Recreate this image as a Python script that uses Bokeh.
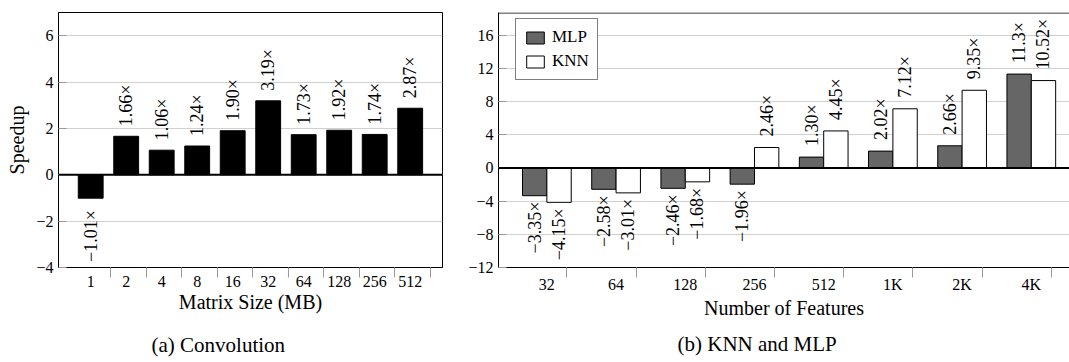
import numpy as np
from bokeh.plotting import figure
from bokeh.layouts import row
from bokeh.models import Range1d, FixedTicker, Span, Title
from bokeh.core.properties import value
from bokeh.embed import file_html
from bokeh.resources import INLINE

# ---------------- data ----------------
conv_sizes = ["1", "2", "4", "8", "16", "32", "64", "128", "256", "512"]
conv_speedup = [-1.01, 1.66, 1.06, 1.24, 1.90, 3.19, 1.73, 1.92, 1.74, 2.87]
conv_labels = ["\u22121.01\u00d7", "1.66\u00d7", "1.06\u00d7", "1.24\u00d7", "1.90\u00d7",
               "3.19\u00d7", "1.73\u00d7", "1.92\u00d7", "1.74\u00d7", "2.87\u00d7"]
conv_yticks = [-4, -2, 0, 2, 4, 6]
conv_ytick_labels = ["\u22124", "\u22122", "0", "2", "4", "6"]

features = ["32", "64", "128", "256", "512", "1K", "2K", "4K"]
mlp_speedup = [-3.35, -2.58, -2.46, -1.96, 1.30, 2.02, 2.66, 11.3]
knn_speedup = [-4.15, -3.01, -1.68, 2.46, 4.45, 7.12, 9.35, 10.52]
mlp_labels = ["\u22123.35\u00d7", "\u22122.58\u00d7", "\u22122.46\u00d7", "\u22121.96\u00d7",
              "1.30\u00d7", "2.02\u00d7", "2.66\u00d7", "11.3\u00d7"]
knn_labels = ["\u22124.15\u00d7", "\u22123.01\u00d7", "\u22121.68\u00d7", "2.46\u00d7",
              "4.45\u00d7", "7.12\u00d7", "9.35\u00d7", "10.52\u00d7"]
feat_yticks = [-12, -8, -4, 0, 4, 8, 12, 16]
feat_ytick_labels = ["\u221212", "\u22128", "\u22124", "0", "4", "8", "12", "16"]

SERIF = "'Liberation Serif', serif"
GRID = "#d0d0d0"
TICK = "#9a9a9a"
FIG_H = 362


def style_axes(p, n, tick_shift, xlabels, yticks, ylabels, xlabel):
    idx = list(range(n))
    p.xgrid.visible = False
    p.ygrid.grid_line_color = GRID
    p.ygrid.ticker = FixedTicker(ticks=yticks)

    xa = p.xaxis[0]
    xa.ticker = FixedTicker(ticks=idx, minor_ticks=[i + tick_shift for i in idx])
    xa.major_label_overrides = {i: l for i, l in zip(idx, xlabels)}
    xa.major_tick_out = 0
    xa.major_tick_in = 0
    xa.minor_tick_out = 10
    xa.minor_tick_in = 0
    xa.minor_tick_line_color = TICK
    xa.axis_line_color = "black"
    xa.major_label_standoff = -2
    xa.major_label_text_font = SERIF
    xa.major_label_text_font_size = "16px"
    xa.major_label_text_color = "black"
    xa.axis_label = xlabel
    xa.axis_label_text_font = SERIF
    xa.axis_label_text_font_size = "20px"
    xa.axis_label_text_font_style = "normal"
    xa.axis_label_text_color = "black"
    xa.axis_label_standoff = 1

    ya = p.yaxis[0]
    ya.ticker = FixedTicker(ticks=yticks)
    ya.major_label_overrides = {t: l for t, l in zip(yticks, ylabels)}
    ya.major_tick_out = 0
    ya.major_tick_in = 8
    ya.major_tick_line_color = TICK
    ya.minor_tick_line_color = None
    ya.axis_line_color = "black"
    ya.major_label_standoff = 5
    ya.major_label_text_font = SERIF
    ya.major_label_text_font_size = "16px"
    ya.major_label_text_color = "black"


def add_value_labels(p, xs, vals, labels, pos_off, neg_off):
    pos = [i for i, v in enumerate(vals) if v >= 0]
    neg = [i for i, v in enumerate(vals) if v < 0]
    common = dict(angle=np.pi / 2, text_baseline="middle", text_font=value(SERIF),
                  text_font_size="18px", text_color="black")
    if pos:
        p.text(x=[xs[i] for i in pos], y=[vals[i] for i in pos],
               text=[labels[i] for i in pos], text_align="left",
               y_offset=-pos_off, **common)
    if neg:
        p.text(x=[xs[i] for i in neg], y=[vals[i] for i in neg],
               text=[labels[i] for i in neg], text_align="right",
               y_offset=neg_off, **common)


def add_caption(p, text, dx, spacer_px):
    # blank spacer panel between the axis and the caption
    p.add_layout(Title(text=" ", standoff=0, text_font=SERIF,
                       text_font_size=f"{spacer_px}px"), "below")
    p.add_layout(Title(text=text, align="left", offset=dx, vertical_align="top",
                       standoff=0, text_font=SERIF, text_font_size="21px",
                       text_font_style="normal", text_color="black"), "below")


# ---------------- (a) Convolution ----------------
n1 = len(conv_sizes)
x1 = list(range(n1))
p1 = figure(width=448, height=FIG_H, output_backend="svg", toolbar_location=None,
            x_range=Range1d(-0.907, 9.91), y_range=Range1d(-4, 7.0),
            min_border_left=58, min_border_right=6, min_border_top=6,
            min_border_bottom=FIG_H - 267)
p1.outline_line_color = "black"
p1.outline_line_width = 1
p1.background_fill_color = "white"
p1.border_fill_color = "white"
style_axes(p1, n1, 0.565, conv_sizes, conv_yticks, conv_ytick_labels, "Matrix Size (MB)")
ya1 = p1.yaxis[0]
ya1.axis_label = "Speedup"
ya1.axis_label_text_font = SERIF
ya1.axis_label_text_font_size = "20px"
ya1.axis_label_text_font_style = "normal"
ya1.axis_label_text_color = "black"
ya1.axis_label_standoff = 5

p1.vbar(x=x1, top=conv_speedup, bottom=0, width=0.70,
        fill_color="black", line_color="black", line_width=1)
p1.add_layout(Span(location=0, dimension="width", line_color="black", line_width=2))
add_value_labels(p1, x1, conv_speedup, conv_labels, 10, 12)
add_caption(p1, "(a) Convolution", 93, 14)

# ---------------- (b) KNN and MLP ----------------
n2 = len(features)
x2 = np.arange(n2)
bw = 0.352
p2 = figure(width=621, height=FIG_H, output_backend="svg", toolbar_location=None,
            x_range=Range1d(-0.699, 7.552), y_range=Range1d(-12, 18.72),
            min_border_left=50, min_border_right=0, min_border_top=12,
            min_border_bottom=FIG_H - 271)
p2.outline_line_color = None
p2.background_fill_color = "white"
p2.border_fill_color = "white"
style_axes(p2, n2, 0.29, features, feat_yticks, feat_ytick_labels, "Number of Features")

x_mlp = list(x2 - bw / 2)
x_knn = list(x2 + bw / 2)
p2.vbar(x=x_mlp, top=mlp_speedup, bottom=0, width=bw, fill_color="#666666",
        line_color="black", line_width=1, legend_label="MLP")
p2.vbar(x=x_knn, top=knn_speedup, bottom=0, width=bw, fill_color="white",
        line_color="black", line_width=1, legend_label="KNN")
p2.add_layout(Span(location=0, dimension="width", line_color="black", line_width=2))
p2.add_layout(Span(location=18.66, dimension="width", line_color="black", line_width=1))
add_value_labels(p2, x_mlp, mlp_speedup, mlp_labels, 11, 6)
add_value_labels(p2, x_knn, knn_speedup, knn_labels, 11, 6)

lg = p2.legend[0]
lg.location = (17, 187)
lg.border_line_color = "black"
lg.border_line_width = 1
lg.background_fill_color = "white"
lg.background_fill_alpha = 1
lg.padding = 8
lg.spacing = 4
lg.margin = 0
lg.glyph_width = 22
lg.glyph_height = 15
lg.label_height = 20
lg.label_standoff = 6
lg.label_text_font = SERIF
lg.label_text_font_size = "17px"
lg.label_text_color = "black"

add_caption(p2, "(b) KNN and MLP", 179, 7)

layout = row(p1, p2)
open("out.html", "w").write(file_html(layout, INLINE))
